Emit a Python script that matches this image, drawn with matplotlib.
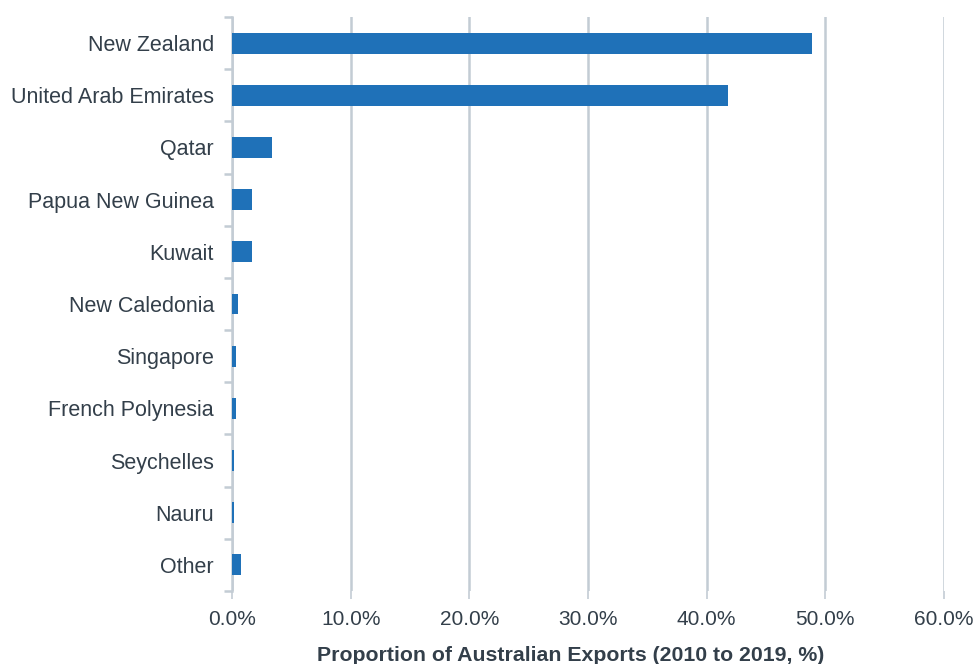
import numpy as np
import matplotlib.pyplot as plt
from matplotlib.ticker import FixedLocator, FuncFormatter

countries = ['New Zealand', 'United Arab Emirates', 'Qatar', 'Papua New Guinea', 'Kuwait',
             'New Caledonia', 'Singapore', 'French Polynesia', 'Seychelles', 'Nauru', 'Other']
share = [48.9, 41.8, 3.4, 1.7, 1.7, 0.5, 0.35, 0.3, 0.2, 0.15, 0.8]
xticks = [0, 10, 20, 30, 40, 50, 60]

plt.rcParams['font.family'] = ['Liberation Sans', 'DejaVu Sans']
grey = '#c3ccd4'
txt = '#333f4a'

fig = plt.figure(figsize=(9.75, 6.64), dpi=100)
ax = fig.add_axes([232 / 975, 1 - 591 / 664, (944 - 232) / 975, (591 - 17) / 664])

y = np.arange(len(countries))
ax.barh(y, share, height=0.4, color='#1f71b8', zorder=3)
ax.set_ylim(len(countries) - 0.5, -0.5)
ax.set_xlim(0, 60)

ax.set_xticks(xticks)
ax.xaxis.set_major_formatter(FuncFormatter(lambda v, p: '%.1f%%' % v))
ax.set_yticks(y)
ax.set_yticklabels(countries)
ax.yaxis.set_minor_locator(FixedLocator(np.arange(-0.5, len(countries), 1)))

ax.grid(axis='x', color=grey, linewidth=1.8, zorder=0)
for s in ['top', 'right', 'bottom']:
    ax.spines[s].set_visible(False)
ax.spines['left'].set_color(grey)
ax.spines['left'].set_linewidth(1.8)

ax.tick_params(axis='y', which='major', length=0, pad=13, labelsize=15.5, labelcolor=txt)
ax.tick_params(axis='y', which='minor', length=6, width=1.8, color=grey)
ax.tick_params(axis='x', length=6, width=1.2, color=grey, pad=8, labelsize=15, labelcolor=txt)

ax.set_xlabel('Proportion of Australian Exports (2010 to 2019, %)', fontsize=15.3,
              fontweight='bold', color=txt)
ax.xaxis.set_label_coords(0.475, -0.095)

fig.savefig('out.png', dpi=100)
